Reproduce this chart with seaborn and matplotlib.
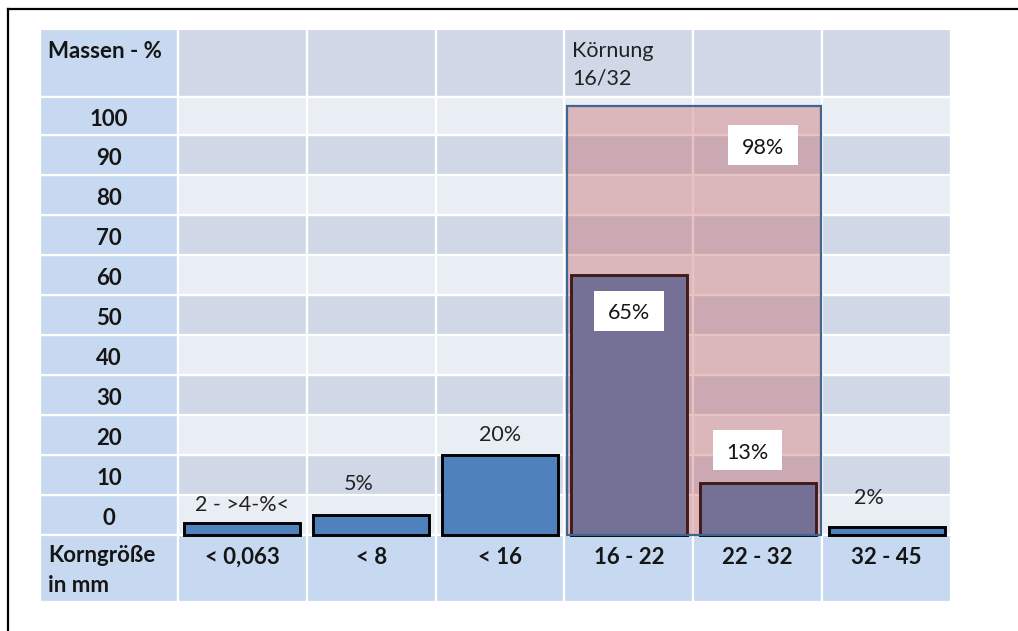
import matplotlib
matplotlib.use("Agg")
import matplotlib.pyplot as plt
from matplotlib.patches import Rectangle
from matplotlib.lines import Line2D
import seaborn as sns
import pandas as pd

# ---- data -------------------------------------------------------------
size_classes = ["< 0,063", "< 8", "< 16", "16 - 22", "22 - 32", "32 - 45"]
mass_percent = [3, 5, 20, 65, 13, 2]
value_labels = ["2 - >4-%<", "5%", "20%", "65%", "13%", "2%"]
boxed_labels = [False, False, False, True, True, False]
scale_ticks = [0, 10, 20, 30, 40, 50, 60, 70, 80, 90, 100]
fraction_name = "Körnung\n16/32"
fraction_share = 98
fraction_label = "98%"
fraction_classes = ["16 - 22", "22 - 32"]

# ---- layout / style ---------------------------------------------------
label_dy = [4.5, 7.8, 5.0, -8.9, 8.2, 7.2]
label_dx = [0.0, -0.1, 0.0, 0.0, -0.08, -0.14]
LB = "#C6D9F1"      # header column / footer row
DARK = "#D0D8E8"    # banded rows
LIGHT = "#E9EDF4"
BAR_BLUE = "#4F81BD"
FRACTION_FILL = "#C0504D"
FRACTION_EDGE = "#3F6592"
INK = "#151515"
FS_BOLD = 16
FS_TEXT = 15.5

plt.rcParams["font.family"] = ["Lato", "DejaVu Sans"]

W, H = 1018, 631
fig = plt.figure(figsize=(W / 100, H / 100), dpi=100)
ax = fig.add_axes([40 / W, 29 / H, 911 / W, 573 / H])

X0, Y0, Y1 = -1.57, -16.75, 126.5
ROW_TOP = 109.5

# ---- table background -------------------------------------------------
def cell(x0, x1, y0, y1, color):
    ax.add_patch(Rectangle((x0, y0), x1 - x0, y1 - y0, facecolor=color,
                           edgecolor="white", linewidth=1.6, zorder=0))

n = len(size_classes)
# header row
cell(X0, -0.5, ROW_TOP, Y1, LB)
for i in range(n):
    cell(i - 0.5, i + 0.5, ROW_TOP, Y1, DARK)
# value rows
for k, t in enumerate(scale_ticks):
    top = ROW_TOP if t == scale_ticks[-1] else t + 10
    cell(X0, -0.5, t, top, LB)
    for i in range(n):
        cell(i - 0.5, i + 0.5, t, top, LIGHT if k % 2 == 0 else DARK)
    ax.text((X0 - 0.5) / 2, (t + top) / 2 - 0.8, str(t), ha="center",
            va="center", fontsize=FS_BOLD, fontweight="bold", color=INK)
# footer row
cell(X0, -0.5, Y0, 0, LB)
for i in range(n):
    cell(i - 0.5, i + 0.5, Y0, 0, LB)
    ax.text(i, -5.6, size_classes[i], ha="center", va="center",
            fontsize=FS_BOLD, fontweight="bold", color=INK)

ax.text(X0 + 0.065, 123.4, "Massen - %", ha="left", va="top",
        fontsize=FS_BOLD, fontweight="bold", color=INK)
ax.text(X0 + 0.065, -2.5, "Korngröße\nin mm", ha="left", va="top",
        fontsize=FS_BOLD, fontweight="bold", color=INK, linespacing=1.55)

# ---- bars ---------------------------------------------------------------
df = pd.DataFrame({"Korngröße": size_classes, "Massen": mass_percent})
sns.barplot(data=df, x="Korngröße", y="Massen", ax=ax, color=BAR_BLUE,
            saturation=1, width=0.9, edgecolor="black", linewidth=2.1,
            zorder=3)

# ---- grain fraction highlight -----------------------------------------
fi = [size_classes.index(c) for c in fraction_classes]
fx0, fx1 = min(fi) - 0.48, max(fi) + 0.49
ax.add_patch(Rectangle((fx0, 0), fx1 - fx0, 107.25, facecolor=FRACTION_FILL,
                       alpha=0.34, edgecolor="none", zorder=4))
ax.add_patch(Rectangle((fx0, 0), fx1 - fx0, 107.25, facecolor="none",
                       edgecolor=FRACTION_EDGE, linewidth=1.6, zorder=4.5))
ax.text(min(fi) - 0.44, 123.4, fraction_name, ha="left", va="top",
        fontsize=FS_TEXT, color="#222222", linespacing=1.45)

BOX_W, BOX_H = 0.54, 10


def boxed(x, y, s):
    ax.add_patch(Rectangle((x - BOX_W / 2, y - BOX_H / 2), BOX_W, BOX_H,
                           facecolor="white", edgecolor="none", zorder=5))
    ax.text(x, y - 0.6, s, ha="center", va="center", fontsize=FS_TEXT,
            color=INK, zorder=6)


boxed(max(fi) + 0.04, fraction_share - 0.6, fraction_label)

# ---- value labels -------------------------------------------------------
for i, (v, s) in enumerate(zip(mass_percent, value_labels)):
    x, y = i + label_dx[i], v + label_dy[i]
    if boxed_labels[i]:
        boxed(x, y, s)
    else:
        ax.text(x, y, s, ha="center", va="center", fontsize=FS_TEXT,
                color="#222222", zorder=6)

ax.set_xlim(X0, n - 0.5)
ax.set_ylim(Y0, Y1)
ax.set_axis_off()

# ---- outer frame ---------------------------------------------------------
fig.add_artist(Line2D([8 / W, 1], [1 - 9 / H, 1 - 9 / H], color="black",
                      linewidth=1.6, transform=fig.transFigure))
fig.add_artist(Line2D([8 / W, 8 / W], [0, 1 - 9 / H], color="black",
                      linewidth=1.6, transform=fig.transFigure))

fig.savefig("out.png", dpi=100)
